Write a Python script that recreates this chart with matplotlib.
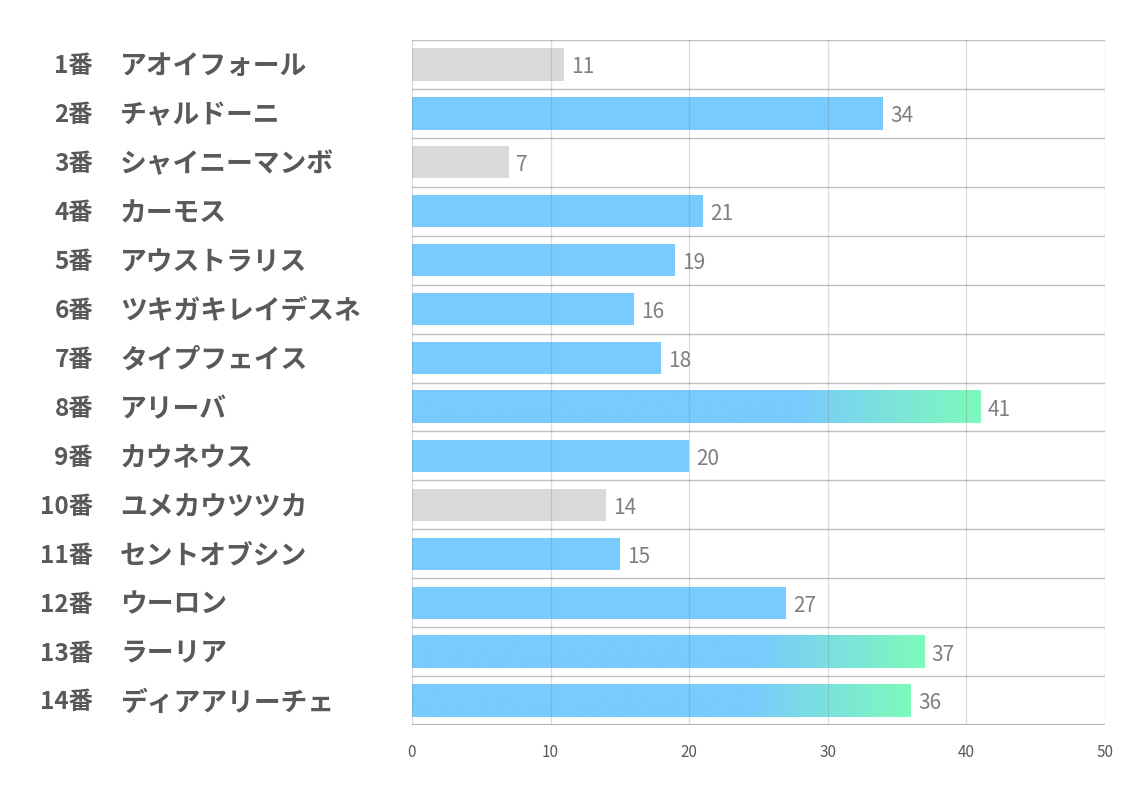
import matplotlib.pyplot as plt
import numpy as np
from matplotlib.colors import LinearSegmentedColormap
from matplotlib.transforms import blended_transform_factory

plt.rcParams['font.family'] = ['Noto Sans CJK JP', 'DejaVu Sans']

numbers = ["1番", "2番", "3番", "4番", "5番", "6番", "7番", "8番", "9番", "10番",
           "11番", "12番", "13番", "14番"]
names = ["アオイフォール", "チャルドーニ", "シャイニーマンボ", "カーモス", "アウストラリス",
         "ツキガキレイデスネ", "タイプフェイス", "アリーバ", "カウネウス", "ユメカウツツカ",
         "セントオブシン", "ウーロン", "ラーリア", "ディアアリーチェ"]
values = [11, 34, 7, 21, 19, 16, 18, 41, 20, 14, 15, 27, 37, 36]
# bar style: "gray", "blue", "grad"
styles = ["gray", "blue", "gray", "blue", "blue", "blue", "blue", "grad", "blue", "gray",
          "blue", "blue", "grad", "grad"]

BLUE = "#79CAFE"
GREEN = "#7DFABB"
GRAY = "#D9D9D9"

fig = plt.figure(figsize=(11.34, 7.93), dpi=100)
ax = fig.add_axes([412 / 1134, 1 - 725 / 793, (1105 - 412) / 1134, (725 - 40) / 793])

n = len(values)
ypos = np.arange(n)
h = 0.66

grad_cmap = LinearSegmentedColormap.from_list("bg", [(0, BLUE), (0.67, BLUE), (1, GREEN)])
grad = np.linspace(0, 1, 256).reshape(1, -1)

for y, v, s in zip(ypos, values, styles):
    if s == "grad":
        ax.imshow(grad, cmap=grad_cmap, aspect="auto", extent=(0, v, y + h / 2, y - h / 2),
                  zorder=2, interpolation="bilinear")
    else:
        ax.barh(y, v, height=h, color=GRAY if s == "gray" else BLUE, zorder=2)
    ax.text(v + 0.5, y + 0.06, str(v), va="center", ha="left", fontsize=15, color="#7F7F7F")

ax.set_xlim(0, 50)
ax.set_ylim(n - 0.5, -0.5)

# row separators and vertical grid
for b in np.arange(-0.5, n, 1.0):
    ax.axhline(b, color="#BFBFBF", lw=1, zorder=1)
for x in range(0, 51, 10):
    ax.axvline(x, color="#808080", alpha=0.27, lw=0.9, zorder=3)
ax.axhline(n - 0.5, color="#A6A6A6", lw=1.2, zorder=4)

for sp in ax.spines.values():
    sp.set_visible(False)
ax.set_yticks([])
ax.set_xticks(range(0, 51, 10))
ax.tick_params(axis="x", length=0, pad=14, labelsize=11, labelcolor="#595959")

tr = blended_transform_factory(fig.transFigure, ax.transData)
for y, num, name in zip(ypos, numbers, names):
    ax.text(93 / 1134, y + 0.04, num, transform=tr, ha="right", va="center",
            fontsize=17.5, fontweight="bold", color="#595959")
    ax.text(120 / 1134, y + 0.04, name, transform=tr, ha="left", va="center",
            fontsize=19.3, fontweight="bold", color="#595959")

fig.savefig("out.png", dpi=100)
